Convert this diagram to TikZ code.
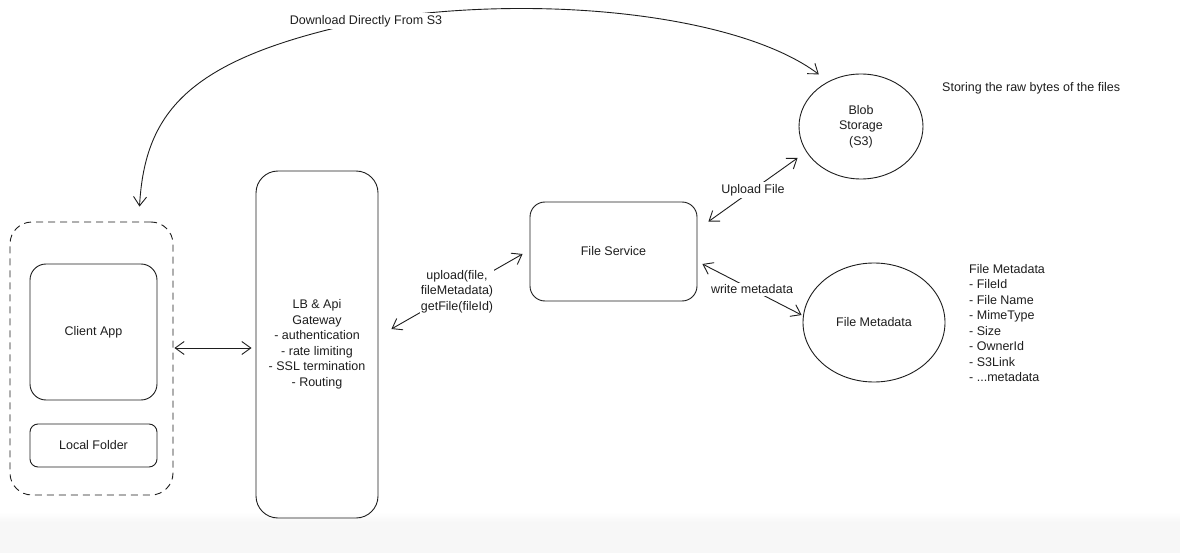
\documentclass[tikz,border=0pt]{standalone}
\usepackage{fontspec}
\setmainfont{Liberation Sans}
\usetikzlibrary{arrows.meta,shapes.geometric}
\definecolor{ink}{RGB}{30,30,30}
\definecolor{strip}{RGB}{247,247,247}
\tikzset{
  box/.style={draw=ink, line width=0.9pt, rounded corners=#1, inner sep=0pt, text=ink, align=center, font=\fontsize{12.5}{15.5}\selectfont},
  box/.default=15pt,
  ell/.style={draw=ink, line width=0.9pt, ellipse, inner sep=0pt, text=ink, align=center, font=\fontsize{12.5}{15.5}\selectfont},
  lbl/.style={text=ink, align=center, inner sep=2pt, font=\fontsize{12.5}{15.5}\selectfont},
  conn/.style={draw=ink, line width=0.9pt, {Straight Barb[length=9pt,width=13pt]}-{Straight Barb[length=9pt,width=13pt]}},
  cover/.style={lbl, fill=white}
}
\begin{document}
\begin{tikzpicture}[x=1pt,y=-1pt]
\useasboundingbox (0,0) rectangle (1180,553);
\fill[white] (0,0) rectangle (1180,553);
\shade[top color=white, bottom color=strip] (0,512) rectangle (1180,522);
\fill[strip] (0,522) rectangle (1180,553);

% nodes
\node[box=22pt, dashed, dash pattern=on 7pt off 5pt, minimum width=163pt, minimum height=273pt] (client) at (91.5,358.5) {};
\node[box=16pt, minimum width=127pt, minimum height=136pt] (app) at (93.5,332) {Client App};
\node[box=8pt, minimum width=127pt, minimum height=43pt] (folder) at (93.5,445.5) {Local Folder};
\node[box=22pt, minimum width=122pt, minimum height=347pt] (lb) at (317,344.5) {LB \& Api\\Gateway\\- authentication\\- rate limiting\\- SSL termination\\- Routing};
\node[box=15pt, minimum width=167pt, minimum height=99pt] (fs) at (613.5,251.5) {File Service};
\node[ell, minimum width=124pt, minimum height=105pt] (blob) at (861,126.5) {Blob\\Storage\\(S3)};
\node[ell, minimum width=142pt, minimum height=119pt] (meta) at (874,322.5) {File Metadata};

\node[lbl, anchor=west] (store) at (940,88) {Storing the raw bytes of the files};
\node[lbl, anchor=north west, align=left] (metalist) at (967,262) {File Metadata\\- FileId\\- File Name\\- MimeType\\- Size\\- OwnerId\\- S3Link\\- ...metadata};

% connectors
\coordinate (dlmid) at (366,21);
\draw[conn] ([shift={(48,-15)}]client.north) .. controls (145,110) and (190,58) .. (dlmid) .. controls (540,-8) and (740,15) .. ([shift={(-6,-9)}]blob.130);
\node[cover] (dl) at (dlmid) {Download Directly From S3};

\draw[conn] ([shift={(1,-10.5)}]client.east) -- ([shift={(-4,3.5)}]lb.west);

\draw[conn] ([shift={(13,-15.5)}]lb.east) -- ([shift={(-7,2.5)}]fs.west) node[cover, midway, inner sep=1pt] (uplbl) {upload(file,\\fileMetadata)\\getFile(fileId)};

\draw[conn] ([shift={(11,20)}]fs.north east) -- ([shift={(-1,31.5)}]blob.west) node[cover, midway] (uflbl) {Upload File};

\draw[conn] ([shift={(5,12.5)}]fs.east) -- ([shift={(-1,-7.5)}]meta.west) node[cover, midway] (wmlbl) {write metadata};
\end{tikzpicture}
\end{document}
